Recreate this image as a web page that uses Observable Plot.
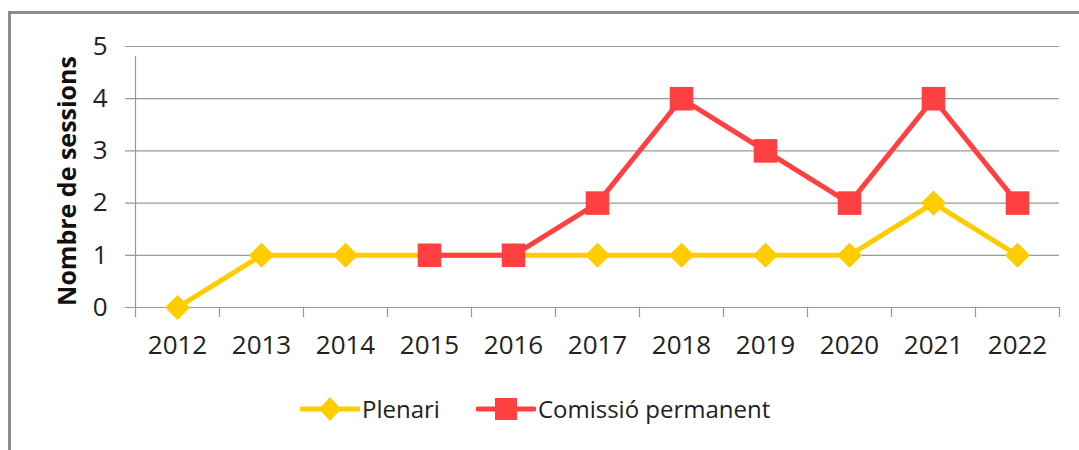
<!DOCTYPE html>
<html>
<head>
<meta charset="utf-8">
<script src="https://cdn.jsdelivr.net/npm/d3@7"></script>
<script src="https://cdn.jsdelivr.net/npm/@observablehq/plot@0.6"></script>
<style>
  html, body { margin: 0; padding: 0; background: #fff; }
  #wrap { position: relative; width: 1079px; height: 450px; overflow: hidden; font-family: "Open Sans", sans-serif; }
  #frame { position: absolute; left: 8px; top: 11px; width: 1200px; height: 600px; border-left: 3px solid #8c8c8c; border-top: 3px solid #8c8c8c; box-sizing: border-box; }
  #chart { position: absolute; left: 0; top: 0; }
  #legend { position: absolute; left: 300px; top: 392px; display: flex; align-items: center; font-size: 24px; color: #222; white-space: nowrap; }
  .item { display: flex; align-items: center; }
  .item svg { display: block; }
</style>
</head>
<body>
<div id="wrap">
  <div id="frame"></div>
  <div id="chart"></div>
  <div id="legend"></div>
</div>
<script>
const years = [2012, 2013, 2014, 2015, 2016, 2017, 2018, 2019, 2020, 2021, 2022];
const plenari = [0, 1, 1, 1, 1, 1, 1, 1, 1, 2, 1];
const comissioYears = [2015, 2016, 2017, 2018, 2019, 2020, 2021, 2022];
const comissio = [1, 1, 2, 4, 3, 2, 4, 2];
const yTicks = [0, 1, 2, 3, 4, 5];
const seriesNames = ["Plenari", "Comissió permanent"];
const seriesColors = ["#FFCC00", "#FF4040"];
const yLabel = "Nombre de sessions";

const plenariData = years.map((y, i) => ({year: y, value: plenari[i]}));
const comissioData = comissioYears.map((y, i) => ({year: y, value: comissio[i]}));
const boundaries = [...years.map(y => y - 0.5), years[years.length - 1] + 0.5];

const chart = Plot.plot({
  width: 1079,
  height: 380,
  marginLeft: 135,
  marginRight: 20,
  marginTop: 46,
  marginBottom: 73,
  style: { fontFamily: "Open Sans, sans-serif", fontSize: "26px", color: "#222", background: "transparent", overflow: "visible" },
  x: { type: "linear", domain: [years[0] - 0.5, years[years.length - 1] + 0.5], label: null },
  y: { domain: [0, 5], label: null },
  marks: [
    Plot.ruleY(yTicks, { stroke: "#999", strokeWidth: 1.2, x1: years[0] - 0.5, x2: years[years.length - 1] + 0.5, insetLeft: -10 }),
    Plot.ruleX([years[0] - 0.5], { stroke: "#999", strokeWidth: 1.2, y1: 0, y2: 5, insetBottom: -10 }),
    Plot.axisX({ ticks: boundaries, tickSize: 10, tickFormat: () => "", stroke: "#999", strokeWidth: 1.2, label: null }),
    Plot.axisX({ ticks: years, tickSize: 0, tickPadding: 28, tickFormat: d => String(d), fill: "#222", label: null }),
    Plot.axisY({ ticks: yTicks, tickSize: 0, tickPadding: 28, tickFormat: d => String(d), fill: "#222", label: null }),
    Plot.text([yLabel], { frameAnchor: "left", textAnchor: "middle", rotate: -90, dx: -68, dy: 4, fontWeight: "bold", fontSize: 25, fill: "#111" }),
    Plot.line(plenariData, { x: "year", y: "value", stroke: seriesColors[0], strokeWidth: 5 }),
    Plot.dot(plenariData, { x: "year", y: "value", symbol: "diamond2", r: 11.3, fill: seriesColors[0], stroke: "none" }),
    Plot.line(comissioData, { x: "year", y: "value", stroke: seriesColors[1], strokeWidth: 5 }),
    Plot.dot(comissioData, { x: "year", y: "value", symbol: "square", r: 13.3, fill: seriesColors[1], stroke: "none" })
  ]
});
document.getElementById("chart").appendChild(chart);

// Legend
const legend = document.getElementById("legend");
const shapes = ["diamond", "square"];
seriesNames.forEach((name, i) => {
  const item = document.createElement("div");
  item.className = "item";
  item.style.marginRight = i === 0 ? "36px" : "0";
  const ns = "http://www.w3.org/2000/svg";
  const svg = document.createElementNS(ns, "svg");
  svg.setAttribute("width", 60);
  svg.setAttribute("height", 30);
  const line = document.createElementNS(ns, "line");
  line.setAttribute("x1", 2); line.setAttribute("x2", 58);
  line.setAttribute("y1", 15); line.setAttribute("y2", 15);
  line.setAttribute("stroke", seriesColors[i]);
  line.setAttribute("stroke-width", 5);
  line.setAttribute("stroke-linecap", "round");
  svg.appendChild(line);
  const m = document.createElementNS(ns, "path");
  if (shapes[i] === "diamond") m.setAttribute("d", "M30,3L41,15L30,27L19,15Z");
  else m.setAttribute("d", "M19,4H41V26H19Z");
  m.setAttribute("fill", seriesColors[i]);
  svg.appendChild(m);
  item.appendChild(svg);
  const t = document.createElement("span");
  t.textContent = name;
  t.style.marginLeft = "2px";
  item.appendChild(t);
  legend.appendChild(item);
});
</script>
</body>
</html>
